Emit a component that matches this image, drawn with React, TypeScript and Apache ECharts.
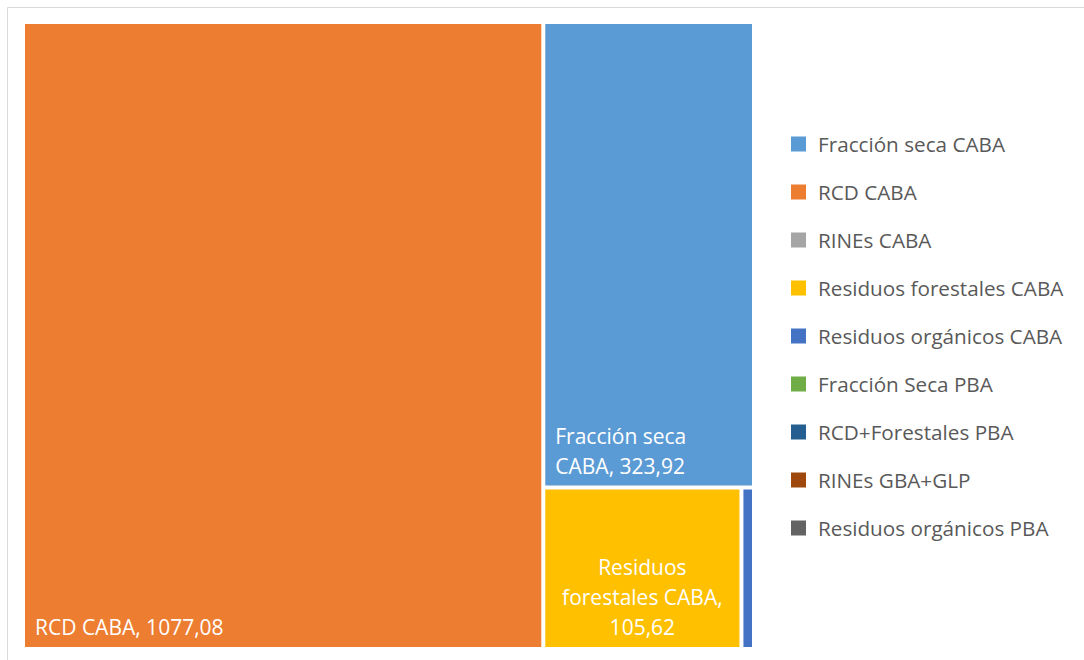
import React, { useEffect, useRef } from "react";
import * as echarts from "echarts";

// Legend / series order (as in the reference legend)
const categories = [
  "Fracción seca CABA",
  "RCD CABA",
  "RINEs CABA",
  "Residuos forestales CABA",
  "Residuos orgánicos CABA",
  "Fracción Seca PBA",
  "RCD+Forestales PBA",
  "RINEs GBA+GLP",
  "Residuos orgánicos PBA",
];
const values = [323.92, 1077.08, 0, 105.62, 6.7, 0, 0, 0, 0];
const colors = [
  "#5B9BD5",
  "#ED7D31",
  "#A5A5A5",
  "#FFC000",
  "#4472C4",
  "#70AD47",
  "#255E91",
  "#9E480E",
  "#636363",
];
// Label text as printed inside tiles ({v} = value, line breaks as in the reference)
const tileLabels: Record<string, string> = {
  "Fracción seca CABA": "Fracción seca\nCABA, {v}",
  "RCD CABA": "RCD CABA, {v}",
  "Residuos forestales CABA": "Residuos\nforestales CABA,\n{v}",
};
const labelPos: Record<string, string> = {
  "Fracción seca CABA": "insideBottomLeft",
  "RCD CABA": "insideBottomLeft",
  "Residuos forestales CABA": "insideBottom",
};

const FONT = "'Open Sans', sans-serif";

function fmt(v: number) {
  return v.toFixed(2).replace(".", ",");
}

export default function App() {
  const ref = useRef<HTMLDivElement>(null);
  useEffect(() => {
    document.body.style.margin = "0";
    const chart = echarts.init(ref.current!, null, { renderer: "svg" });

    const data = categories
      .map((name, i) => ({ name, value: values[i], color: colors[i] }))
      .filter((d) => d.value > 0)
      .map((d) => {
        const txt = tileLabels[d.name];
        const pos = labelPos[d.name] || "insideBottomLeft";
        return {
          name: d.name,
          value: d.value,
          itemStyle: { color: d.color, borderWidth: 0 },
          label: txt
            ? {
                show: true,
                position: pos,
                align: pos === "insideBottom" ? "center" : "left",
                formatter: txt.replace("{v}", fmt(d.value)),
              }
            : { show: false },
        };
      });

    const legendGraphics: any[] = [];
    categories.forEach((name, i) => {
      const cy = 144 + 48 * i;
      legendGraphics.push({
        type: "rect",
        shape: { x: 791, y: cy - 7.5, width: 15, height: 15 },
        style: { fill: colors[i] },
      });
      legendGraphics.push({
        type: "text",
        x: 818,
        y: cy,
        style: {
          text: name,
          fill: "#595959",
          font: `20.7px ${FONT}`,
          verticalAlign: "middle",
          align: "left",
        },
      });
    });

    chart.setOption({
      animation: false,
      backgroundColor: "#ffffff",
      graphic: [
        {
          type: "rect",
          shape: { x: 7.5, y: 7.5, width: 1200, height: 800 },
          style: { fill: "none", stroke: "#d9d9d9", lineWidth: 1 },
          z: -1,
        },
        ...legendGraphics,
      ],
      series: [
        {
          type: "treemap",
          left: 25,
          top: 24,
          width: 727,
          height: 623,
          roam: false,
          nodeClick: false,
          breadcrumb: { show: false },
          squareRatio: 0.5 * (1 + Math.sqrt(5)),
          label: {
            show: true,
            color: "#ffffff",
            fontFamily: FONT,
            fontSize: 21,
            lineHeight: 30,
            padding: [0, 10, 5, 10],
            overflow: "none",
          },
          upperLabel: { show: false },
          levels: [
            { itemStyle: { gapWidth: 4, borderWidth: 0, borderColor: "#ffffff" } },
            { itemStyle: { gapWidth: 0, borderWidth: 0 } },
          ],
          data,
        },
      ],
    });
    return () => chart.dispose();
  }, []);
  return <div ref={ref} style={{ width: 1084, height: 660 }} />;
}
